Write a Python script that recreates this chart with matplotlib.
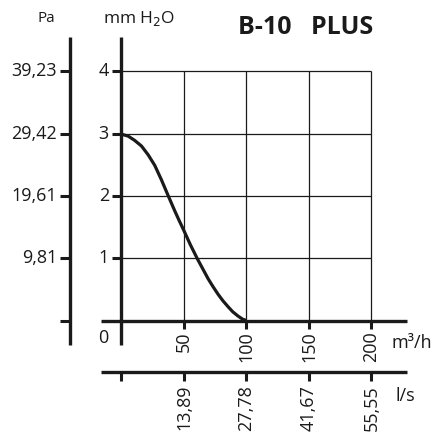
import matplotlib
matplotlib.use("Agg")
import matplotlib.pyplot as plt

plt.rcParams['font.family'] = ['Open Sans', 'DejaVu Sans']

# Data
flow_m3h = [0, 5.3, 10.6, 16.0, 21.3, 26.6, 31.9, 37.2, 42.6, 46, 50, 55, 60.7, 65,
            69.3, 73, 77.3, 81, 85.3, 89, 93.3, 97, 100]
pressure_mm = [2.99, 2.96, 2.89, 2.80, 2.66, 2.49, 2.26, 2.01, 1.76, 1.61, 1.44, 1.22, 0.99, 0.83,
               0.67, 0.55, 0.42, 0.32, 0.22, 0.14, 0.07, 0.02, 0.0]
mm_ticks = [1, 2, 3, 4]
mm_labels = ["1", "2", "3", "4"]
pa_ticks = [0, 1, 2, 3, 4]
pa_labels = ["", "9,81", "19,61", "29,42", "39,23"]
m3h_ticks = [50, 100, 150, 200]
m3h_labels = ["50", "100", "150", "200"]
ls_ticks = [0, 50, 100, 150, 200]
ls_labels = ["", "13,89", "27,78", "41,67", "55,55"]
title = "B-10   PLUS"

W, H = 435, 432
fig = plt.figure(figsize=(W / 100, H / 100), dpi=100)
ax = fig.add_axes([0, 0, 1, 1])
# pixel mapping: x=0 -> 121px, 1.25 px/unit ; y=0 -> 320px from top, 62.25 px/unit
sx, x0 = 1.25, 121.5
sy, y0 = 62.3, 320.5
ax.set_xlim(-x0 / sx, (W - x0) / sx)
ax.set_ylim((y0 - H) / sy, y0 / sy)
ax.axis('off')

def px(p):
    return (p - x0) / sx

def py(p):
    return (y0 - p) / sy

k = '#1a1a1a'
fs = 13
# grid
for t in mm_ticks:
    ax.plot([0, 200], [t, t], color=k, lw=0.9, solid_capstyle='butt')
for t in m3h_ticks:
    ax.plot([t, t], [0, 4], color=k, lw=0.9, solid_capstyle='butt')

# main axes lines
ax.plot([0, 0], [py(37), py(345)], color=k, lw=2.4, solid_capstyle='butt')
ax.plot([px(101), px(407)], [0, 0], color=k, lw=2.4, solid_capstyle='butt')
for t, lab in zip(mm_ticks, mm_labels):
    ax.plot([px(112), 0], [t, t], color=k, lw=2.2, solid_capstyle='butt')
    ax.text(px(109), t, lab, ha='right', va='center', fontsize=fs, color=k)
for t, lab in zip(m3h_ticks, m3h_labels):
    ax.plot([t, t], [0, py(329)], color=k, lw=2.2, solid_capstyle='butt')
    ax.text(t, py(331), lab, rotation=90, ha='center', va='top', fontsize=fs, color=k)
ax.text(px(98), py(338), "0", ha='left', va='center', fontsize=fs, color=k)
ax.text(px(392), py(343), "m³/h", ha='left', va='center', fontsize=fs, color=k)

# Pa axis
ax.plot([px(70), px(70)], [py(37), py(345)], color=k, lw=2.4, solid_capstyle='butt')
for t, lab in zip(pa_ticks, pa_labels):
    ax.plot([px(60), px(70)], [t, t], color=k, lw=2.2, solid_capstyle='butt')
    ax.text(px(57), t, lab, ha='right', va='center', fontsize=fs, color=k)

# l/s axis
ax.plot([px(101), px(407)], [py(372), py(372)], color=k, lw=2.4, solid_capstyle='butt')
for t, lab in zip(ls_ticks, ls_labels):
    ax.plot([t, t], [py(372), py(381)], color=k, lw=2.2, solid_capstyle='butt')
    ax.text(t, py(385), lab, rotation=90, ha='center', va='top', fontsize=fs, color=k)
ax.text(px(396), py(396), "l/s", ha='left', va='center', fontsize=fs, color=k)

# curve
ax.plot(flow_m3h, pressure_mm, color=k, lw=2.3, solid_capstyle='butt', solid_joinstyle='round')

# headers
ax.text(px(46), py(18), "Pa", ha='center', va='center', fontsize=11, color=k)
ax.text(px(139), py(19), "mm H$_2$O", ha='center', va='center', fontsize=12.5, color=k)
ax.text(px(306), py(27), title, ha='center', va='center', fontsize=18, fontweight='bold', color=k)

fig.savefig("out.png", dpi=100)
